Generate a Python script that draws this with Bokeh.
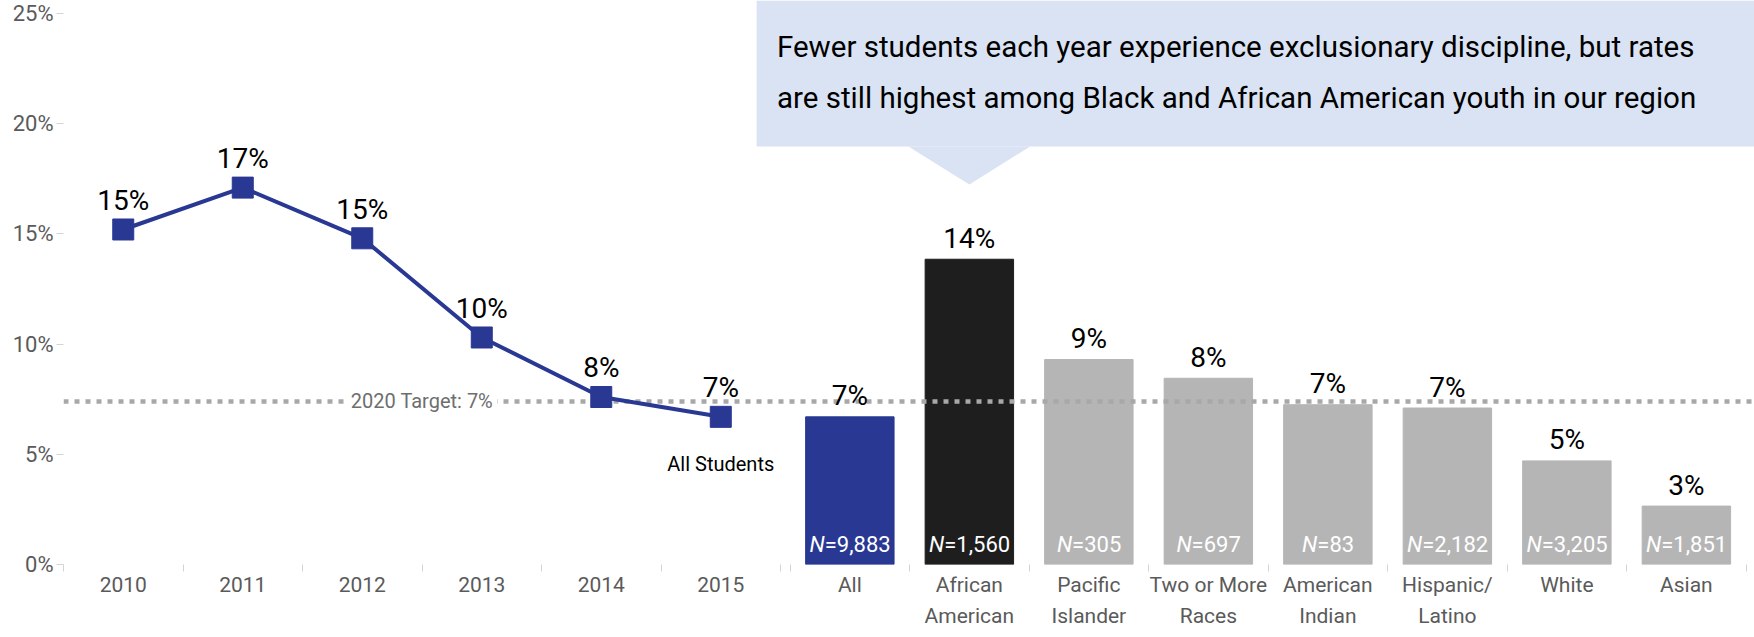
from bokeh.plotting import figure
from bokeh.models import (Range1d, FixedTicker, ColumnDataSource, Label,
                          BoxAnnotation, PolyAnnotation)
from bokeh.core.properties import value
from bokeh.embed import file_html
from bokeh.resources import INLINE

# ---------------- data ----------------
years = ["2010", "2011", "2012", "2013", "2014", "2015"]
year_rates = [15.2, 17.1, 14.8, 10.3, 7.6, 6.7]
year_labels = ["15%", "17%", "15%", "10%", "8%", "7%"]

groups = ["All", "African\nAmerican", "Pacific\nIslander", "Two or More\nRaces",
          "American\nIndian", "Hispanic/\nLatino", "White", "Asian"]
group_rates = [6.7, 13.85, 9.3, 8.45, 7.25, 7.1, 4.7, 2.65]
group_labels = ["7%", "14%", "9%", "8%", "7%", "7%", "5%", "3%"]
group_n = ["9,883", "1,560", "305", "697", "83", "2,182", "3,205", "1,851"]

y_ticks = [0, 5, 10, 15, 20, 25]
y_tick_labels = ["0%", "5%", "10%", "15%", "20%", "25%"]
target = 7.4
target_text = "2020 Target: 7%"
series_label = "All Students"
title_lines = ["Fewer students each year experience exclusionary discipline, but rates",
               "are still highest among Black and African American youth in our region"]

# ---------------- style / layout ----------------
FONT = "Roboto"
BLUE = "#293893"
BLACK_BAR = "#1e1e1e"
GRAY_BAR = "#b5b5b5"
AXIS_TXT = "#5a5a5a"
TICK = "#d4d4d4"
BOX = "#dae3f3"
group_colors = [BLUE, BLACK_BAR] + [GRAY_BAR] * (len(groups) - 2)

BAND = 100
GAP = 8
RIGHT_PAD = 7
n_years, n_groups = len(years), len(groups)
year_x = [BAND * i + BAND // 2 for i in range(n_years)]
group_x = [BAND * n_years + GAP + BAND * j + BAND // 2 for j in range(n_groups)]
x_end = BAND * (n_years + n_groups) + GAP
boundaries = [BAND * i for i in range(n_years + 1)] + \
             [BAND * n_years + GAP + BAND * j for j in range(n_groups + 1)]
Y_TOP = 25.59

p = figure(width=1754, height=637, x_range=Range1d(0, x_end + RIGHT_PAD),
           y_range=Range1d(0, Y_TOP),
           output_backend="svg", toolbar_location=None,
           min_border_left=63, min_border_right=0, min_border_top=0, min_border_bottom=73)
p.outline_line_color = None
p.grid.visible = False
p.background_fill_color = "white"

# x axis: labels at centers, short ticks at category boundaries
p.xaxis.ticker = FixedTicker(ticks=year_x + group_x, minor_ticks=boundaries)
p.xaxis.major_label_overrides = dict(zip(year_x + group_x, years + groups))
p.xaxis.major_label_text_font = FONT
p.xaxis.major_label_text_font_size = "21px"
p.xaxis.major_label_text_color = AXIS_TXT
p.xaxis.major_label_text_line_height = 1.3
p.xaxis.axis_line_color = None
p.xaxis.major_tick_line_color = None
p.xaxis.major_tick_out = 7
p.xaxis.major_tick_in = 0
p.xaxis.minor_tick_line_color = TICK
p.xaxis.minor_tick_out = 7
p.xaxis.minor_tick_in = 0
p.xaxis.major_label_standoff = 1

p.yaxis.ticker = FixedTicker(ticks=y_ticks)
p.yaxis.major_label_overrides = dict(zip(y_ticks, y_tick_labels))
p.yaxis.major_label_text_font = FONT
p.yaxis.major_label_text_font_size = "22px"
p.yaxis.major_label_text_color = AXIS_TXT
p.yaxis.axis_line_color = None
p.yaxis.major_tick_line_color = TICK
p.yaxis.major_tick_out = 7
p.yaxis.major_tick_in = 0
p.yaxis.minor_tick_line_color = None
p.yaxis.major_label_standoff = 3

# bars
fs_n = 22
W = {c: .562 for c in "0123456789"}
W.update({",": .197, "=": .549})
wN = 0.713
xoff = []
for n in group_n:
    w_rest = sum(W[c] for c in "=" + n)
    xoff.append((wN - w_rest) / 2 * fs_n)

bar_src = ColumnDataSource(dict(x=group_x, top=group_rates, color=group_colors,
                                label=group_labels, rest=["=" + n for n in group_n],
                                nn=["N"] * n_groups, xoff=xoff))
p.vbar(x="x", top="top", bottom=0, width=74, color="color", source=bar_src)

# target line
p.segment(x0=0, y0=target, x1=x_end + RIGHT_PAD, y1=target, line_color="#a8a8a8",
          line_width=4.5, line_dash="5 6")

# line series
line_src = ColumnDataSource(dict(x=year_x, y=year_rates, label=year_labels))
p.line("x", "y", source=line_src, line_color=BLUE, line_width=4)
p.scatter("x", "y", source=line_src, marker="square", size=21, color=BLUE)

p.text(x="x", y="y", text="label", source=line_src, text_font=value(FONT),
       text_font_size="28px", text_align="center", text_baseline="alphabetic",
       y_offset=-29, text_color="black")
p.text(x="x", y="top", text="label", source=bar_src, text_font=value(FONT),
       text_font_size="28px", text_align="center", text_baseline="alphabetic",
       y_offset=-21, text_color="black")

# N labels
p.text(x="x", y=0, text="nn", source=bar_src, text_font=value(FONT),
       text_font_size=f"{fs_n}px", text_font_style="italic", text_align="right",
       text_baseline="middle", x_offset="xoff", y_offset=-20, text_color="white")
p.text(x="x", y=0, text="rest", source=bar_src, text_font=value(FONT),
       text_font_size=f"{fs_n}px", text_align="left",
       text_baseline="middle", x_offset="xoff", y_offset=-20, text_color="white")

# target label
tl = Label(x=BAND * 3, y=target, text=target_text, text_font=FONT, text_font_size="20px",
           text_color="#6e6e6e", text_align="center", text_baseline="middle",
           background_fill_color="white")
try:
    tl.padding = 4
except Exception:
    pass
p.add_layout(tl)

p.add_layout(Label(x=year_x[-1], y=year_rates[-1], y_offset=-47, text=series_label,
                   text_font=FONT, text_font_size="20px", text_color="black",
                   text_align="center", text_baseline="middle"))

# callout
box_left, box_bottom = 580, 18.97
tip_x = group_x[1]
p.add_layout(BoxAnnotation(left=box_left, right=x_end + RIGHT_PAD, bottom=box_bottom, top=Y_TOP,
                           fill_color=BOX, fill_alpha=1, line_color=None))
p.add_layout(PolyAnnotation(xs=[tip_x - 51, tip_x + 51, tip_x],
                            ys=[box_bottom, box_bottom, 17.24],
                            fill_color=BOX, fill_alpha=1, line_color=None))
p.add_layout(Label(x=597, y=23.46, text=title_lines[0], text_font=FONT, text_font_size="29.5px",
                   text_color="black", text_align="left", text_baseline="alphabetic"))
p.add_layout(Label(x=597, y=21.17, text=title_lines[1], text_font=FONT, text_font_size="29.5px",
                   text_color="black", text_align="left", text_baseline="alphabetic"))

open("out.html", "w").write(file_html(p, INLINE))
